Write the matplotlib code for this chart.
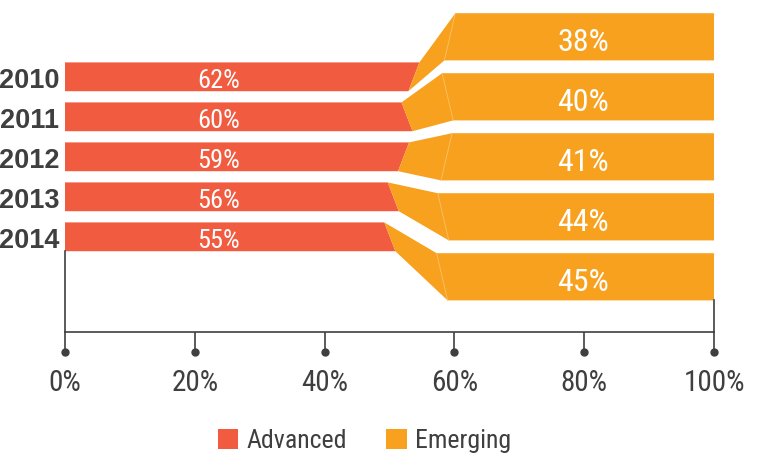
"""Advanced vs emerging economies' share, 2010-2014, as a stepped bar chart."""
import matplotlib
matplotlib.use("Agg")
import matplotlib.pyplot as plt
from matplotlib import font_manager
from matplotlib.patches import Polygon, Patch

YEARS = ["2010", "2011", "2012", "2013", "2014"]
ADVANCED = [62, 60, 59, 56, 55]
EMERGING = [38, 40, 41, 44, 45]
TICKS = [0, 20, 40, 60, 80, 100]
TICK_LABELS = ["0%", "20%", "40%", "60%", "80%", "100%"]

RED = "#f15c40"
ORANGE = "#f7a11e"
INK = "#3f3f3f"

_names = {f.name for f in font_manager.fontManager.ttflist}
NARROW = next((n for n in ["Liberation Sans Narrow", "Roboto Condensed",
                           "Open Sans Condensed"] if n in _names), "Roboto")
BOLD = "Liberation Sans" if "Liberation Sans" in _names else "DejaVu Sans"

# the bars are drawn on a compressed scale so the connectors fit between
# the two halves; labels carry the real shares
def red_end(v):
    return 20.9 + 0.53 * v

def orange_start(v):
    return 59.3 - 0.17 * (v - 38)

SLANT = [1, -1, 1, -1, -1]   # +1: edge leans right at the top
D = 0.85                     # half of the slant, in axis %
HR, HO = 0.36, 0.59          # half heights (row units)
AXIS_Y = 6.38

fig = plt.figure(figsize=(7.61, 4.58), dpi=100)
ax = fig.add_axes([65 / 761, 1 - 332 / 458, 649 / 761, 332 / 458])
ax.set_xlim(0, 100)
ax.set_ylim(AXIS_Y, -1.92)
for s in ax.spines.values():
    s.set_visible(False)

for i, (yr, adv, em) in enumerate(zip(YEARS, ADVANCED, EMERGING)):
    yc = i
    yo = 1.5 * i - 1
    s = SLANT[i] * D
    rx, ox = red_end(adv), orange_start(em)
    ax.add_patch(Polygon([(0, yc - HR), (rx + s, yc - HR), (rx - s, yc + HR),
                          (0, yc + HR)], closed=True, fc=RED, ec="none"))
    ax.add_patch(Polygon([(rx + s, yc - HR), (ox + s, yo - HO), (100, yo - HO),
                          (100, yo + HO), (ox - s, yo + HO), (rx - s, yc + HR)],
                         closed=True, fc=ORANGE, ec="none"))
    ax.plot([ox + s, ox - s], [yo - HO, yo + HO], color="#fbc36a", lw=0.6)
    ax.text(23.6, yc + 0.29, f"{adv}%", color="white", fontsize=19,
            family=NARROW, ha="center", va="baseline")
    ax.text(79.8, yo + 0.36, f"{em}%", color="white", fontsize=23,
            family=NARROW, ha="center", va="baseline")
    ax.text(-0.9, yc + 0.275, yr, color=INK, fontsize=19.5, family=BOLD,
            fontweight="bold", ha="right", va="baseline", clip_on=False)

# axis frame: partial verticals at both ends plus the baseline
ax.plot([0, 100], [AXIS_Y, AXIS_Y], color=INK, lw=1.2, clip_on=False)
ax.plot([0, 0], [4 + HR, AXIS_Y], color=INK, lw=1.2, clip_on=False)
ax.plot([100, 100], [5 + HO, AXIS_Y], color=INK, lw=1.2, clip_on=False)

ax.set_yticks([])
ax.set_xticks(TICKS)
ax.set_xticklabels(TICK_LABELS, family=NARROW, fontsize=21, color=INK)
ax.tick_params(axis="x", length=14.4, width=1.2, color=INK, pad=12)
ax.plot(TICKS, [AXIS_Y + 0.5] * len(TICKS), "o", color=INK, ms=5,
        clip_on=False)

handles = [Patch(fc=RED, ec="none", label="Advanced"),
           Patch(fc=ORANGE, ec="none", label="Emerging")]
fig.legend(handles=handles, loc="center", bbox_to_anchor=(0.479, 0.037),
           ncol=2, frameon=False, handlelength=0.8, handleheight=0.8,
           handletextpad=0.33, columnspacing=1.5, borderpad=0,
           prop={"family": NARROW, "size": 18.6}, labelcolor=INK)

fig.savefig("out.png", dpi=100)
